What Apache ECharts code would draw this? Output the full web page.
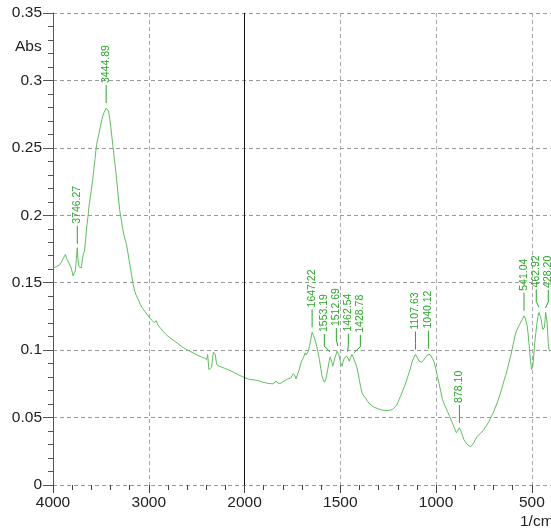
<!DOCTYPE html>
<html>
<head>
<meta charset="utf-8">
<script src="https://cdn.jsdelivr.net/npm/echarts@6/dist/echarts.min.js"></script>
<style>
  html, body { margin: 0; padding: 0; background: #fff; }
  #chart { width: 551px; height: 532px; }
</style>
</head>
<body>
<div id="chart"></div>
<script>
// IR spectrum: wavenumber (1/cm) and absorbance
const wavenumbers = [
  4000, 3980, 3960, 3940, 3927, 3910, 3900, 3890, 3885, 3878, 3870, 3865, 3858, 3850, 3840, 3830,
  3823, 3810, 3800, 3790, 3780, 3768, 3755, 3747, 3740, 3730, 3720, 3705, 3695, 3684, 3670, 3660,
  3649, 3635, 3622, 3605, 3587, 3575, 3562, 3545, 3530, 3518, 3505, 3490, 3475, 3458, 3445, 3435,
  3420, 3408, 3396, 3385, 3372, 3355, 3337, 3320, 3302, 3288, 3274, 3255, 3232, 3215, 3198, 3180,
  3163, 3145, 3135, 3110, 3090, 3065, 3042, 3015, 2990, 2965, 2945, 2930, 2920, 2910, 2896, 2875,
  2851, 2825, 2799, 2765, 2729, 2695, 2660, 2635, 2608, 2575, 2538, 2500, 2451, 2420, 2395, 2385,
  2378, 2372, 2365, 2357, 2345, 2336, 2325, 2318, 2305, 2292, 2284, 2265, 2243, 2210, 2174, 2140,
  2104, 2070, 2034, 2000, 1974, 1955, 1939, 1920, 1905, 1890, 1879, 1865, 1852, 1845, 1835, 1826,
  1818, 1810, 1800, 1792, 1783, 1775, 1766, 1758, 1752, 1746, 1743, 1737, 1731, 1726, 1722, 1714,
  1708, 1703, 1697, 1693, 1688, 1684, 1679, 1675, 1668, 1661, 1654, 1647, 1641, 1635, 1629, 1623,
  1616, 1609, 1602, 1595, 1589, 1583, 1575, 1566, 1557, 1553, 1549, 1544, 1540, 1534, 1528, 1522,
  1517, 1513, 1509, 1505, 1498, 1491, 1485, 1479, 1472, 1467, 1462, 1458, 1453, 1446, 1439, 1433,
  1429, 1424, 1415, 1408, 1401, 1394, 1387, 1381, 1375, 1366, 1358, 1345, 1332, 1319, 1306, 1293,
  1280, 1267, 1254, 1240, 1228, 1218, 1210, 1200, 1193, 1184, 1175, 1166, 1158, 1150, 1141, 1132,
  1124, 1115, 1108, 1100, 1089, 1081, 1075, 1066, 1057, 1048, 1040, 1031, 1022, 1012, 1001, 993,
  984, 975, 967, 954, 941, 928, 915, 904, 894, 884, 878, 872, 867, 861, 855, 846,
  837, 828, 820, 811, 803, 794, 785, 776, 768, 759, 750, 742, 733, 724, 715, 706,
  698, 690, 681, 672, 663, 655, 646, 637, 628, 620, 611, 602, 594, 588, 581, 572,
  564, 557, 550, 545, 541, 535, 529, 524, 520, 515, 511, 506, 502, 498, 495, 490,
  485, 479, 473, 468, 463, 457, 451, 447, 443, 438, 434, 431, 428, 424, 420, 417,
  414, 411, 409, 406
];
const absorbance = [
  0.1610, 0.1615, 0.1620, 0.1625, 0.1635, 0.1655, 0.1670, 0.1685, 0.1697, 0.1680, 0.1710, 0.1714, 0.1680, 0.1670, 0.1655, 0.1640,
  0.1635, 0.1610, 0.1580, 0.1550, 0.1570, 0.1586, 0.1680, 0.1760, 0.1680, 0.1620, 0.1610, 0.1610, 0.1660, 0.1714, 0.1734, 0.1820,
  0.1907, 0.1990, 0.2080, 0.2160, 0.2253, 0.2330, 0.2414, 0.2525, 0.2570, 0.2612, 0.2660, 0.2710, 0.2750, 0.2775, 0.2795, 0.2790,
  0.2772, 0.2720, 0.2649, 0.2580, 0.2500, 0.2390, 0.2278, 0.2150, 0.2030, 0.1970, 0.1907, 0.1840, 0.1783, 0.1710, 0.1635, 0.1560,
  0.1487, 0.1435, 0.1413, 0.1375, 0.1340, 0.1310, 0.1289, 0.1262, 0.1240, 0.1220, 0.1205, 0.1215, 0.1218, 0.1195, 0.1178, 0.1160,
  0.1140, 0.1120, 0.1103, 0.1085, 0.1066, 0.1048, 0.1029, 0.1017, 0.1005, 0.0993, 0.0980, 0.0965, 0.0950, 0.0940, 0.0932, 0.0968,
  0.0905, 0.0856, 0.0868, 0.0870, 0.0872, 0.0878, 0.0985, 0.0982, 0.0965, 0.0895, 0.0886, 0.0880, 0.0876, 0.0866, 0.0856, 0.0845,
  0.0832, 0.0820, 0.0807, 0.0797, 0.0782, 0.0780, 0.0777, 0.0770, 0.0762, 0.0758, 0.0753, 0.0752, 0.0750, 0.0758, 0.0770, 0.0755,
  0.0745, 0.0755, 0.0762, 0.0772, 0.0782, 0.0785, 0.0787, 0.0795, 0.0802, 0.0825, 0.0836, 0.0810, 0.0787, 0.0810, 0.0820, 0.0856,
  0.0890, 0.0918, 0.0925, 0.0943, 0.0960, 0.0980, 0.0965, 0.0955, 0.0990, 0.1029, 0.1080, 0.1133, 0.1110, 0.1091, 0.1060, 0.1029,
  0.0980, 0.0930, 0.0865, 0.0807, 0.0780, 0.0762, 0.0787, 0.0856, 0.0925, 0.0950, 0.0943, 0.0910, 0.0881, 0.0910, 0.0943, 0.0970,
  0.0992, 0.0995, 0.0970, 0.0950, 0.0905, 0.0881, 0.0915, 0.0943, 0.0950, 0.0955, 0.0952, 0.0935, 0.0918, 0.0945, 0.0968, 0.0950,
  0.0945, 0.0915, 0.0880, 0.0835, 0.0782, 0.0730, 0.0684, 0.0668, 0.0658, 0.0640, 0.0621, 0.0600, 0.0584, 0.0574, 0.0567, 0.0560,
  0.0555, 0.0553, 0.0552, 0.0555, 0.0560, 0.0572, 0.0584, 0.0610, 0.0634, 0.0665, 0.0696, 0.0728, 0.0758, 0.0795, 0.0832, 0.0875,
  0.0918, 0.0948, 0.0968, 0.0950, 0.0918, 0.0910, 0.0910, 0.0925, 0.0943, 0.0962, 0.0975, 0.0968, 0.0955, 0.0920, 0.0860, 0.0805,
  0.0750, 0.0690, 0.0634, 0.0590, 0.0547, 0.0505, 0.0461, 0.0422, 0.0387, 0.0399, 0.0424, 0.0405, 0.0387, 0.0362, 0.0337, 0.0318,
  0.0300, 0.0290, 0.0283, 0.0298, 0.0313, 0.0340, 0.0362, 0.0375, 0.0382, 0.0395, 0.0412, 0.0430, 0.0449, 0.0472, 0.0498, 0.0522,
  0.0547, 0.0578, 0.0610, 0.0646, 0.0684, 0.0725, 0.0770, 0.0812, 0.0856, 0.0905, 0.0955, 0.1010, 0.1066, 0.1105, 0.1140, 0.1168,
  0.1190, 0.1210, 0.1227, 0.1240, 0.1255, 0.1240, 0.1227, 0.1180, 0.1128, 0.1050, 0.0980, 0.0915, 0.0856, 0.0868, 0.0880, 0.0960,
  0.1054, 0.1130, 0.1203, 0.1250, 0.1280, 0.1255, 0.1227, 0.1185, 0.1153, 0.1160, 0.1170, 0.1225, 0.1280, 0.1250, 0.1200, 0.1120,
  0.1050, 0.1010, 0.1000, 0.0990
];
// Annotated peak positions (1/cm)
const peakLabels = [
  '3746.27', '3444.89', '1647.22', '1553.19', '1512.69', '1462.54', '1428.78',
  '1107.63', '1040.12', '878.10', '541.04', '462.92', '428.20'
];
// Major x tick labels (1/cm) and y range
const xTickLabels = [4000, 3000, 2000, 1500, 1000, 500];
const yMin = 0, yMax = 0.35, yStep = 0.05;

// The wavenumber scale is expanded 2x below 2000 1/cm.
// Axis unit u: 4000 -> 0, 2000 -> 2, then 500 1/cm per unit.
function toU(w) { return w >= 2000 ? (4000 - w) / 1000 : 2 + (2000 - w) / 500; }
function fromU(u) { return u <= 2 ? 4000 - u * 1000 : 2000 - (u - 2) * 500; }
const uMax = toU(400);

function absAt(w) {
  for (let i = 0; i < wavenumbers.length - 1; i++) {
    const a = wavenumbers[i], b = wavenumbers[i + 1];
    if (w <= a && w >= b) {
      const t = (a - w) / (a - b);
      return absorbance[i] + t * (absorbance[i + 1] - absorbance[i]);
    }
  }
  return absorbance[absorbance.length - 1];
}

const spectrum = wavenumbers.map((w, i) => [toU(w), absorbance[i]]);
const peaks = peakLabels.map(s => { const w = parseFloat(s); return [toU(w), absAt(w)]; });

const GREEN_TEXT = '#27a727';
const LABEL_FONT = '10.5px "Liberation Sans", Arial, sans-serif';
const AXIS_FONT = 15.5;
const LABEL_GAP = 12;

// Spread crowded peak labels horizontally so they do not overlap.
function layoutLabels(api) {
  const pts = peaks.map(p => api.coord(p));
  const xs = pts.map(p => p[0]);
  for (let it = 0; it < 200; it++) {
    for (let i = 0; i < xs.length - 1; i++) {
      const d = xs[i + 1] - xs[i];
      if (d < LABEL_GAP) {
        const m = (LABEL_GAP - d) / 2;
        xs[i] -= m; xs[i + 1] += m;
      }
    }
  }
  return pts.map((p, i) => ({ px: p[0], py: p[1], tx: xs[i] }));
}

const chart = echarts.init(document.getElementById('chart'), null, { renderer: 'canvas' });

const option = {
  animation: false,
  backgroundColor: '#fff',
  grid: { left: 53, top: 13, width: uMax * 96, height: 472, containLabel: false },
  xAxis: [
    {
      type: 'value', min: 0, max: uMax, interval: 1,
      axisLine: { show: false },
      axisTick: { show: true, length: 8, lineStyle: { color: '#444' } },
      axisLabel: {
        show: true, margin: 10, showMaxLabel: false,
        color: '#222', fontSize: AXIS_FONT, fontFamily: '"Liberation Sans", Arial, sans-serif',
        formatter: u => {
          const w = Math.round(fromU(u));
          return xTickLabels.indexOf(w) >= 0 ? String(w) : '';
        }
      },
      splitLine: { show: true, lineStyle: { color: '#a8a8a8', type: [4, 3], width: 1 } }
    },
    {
      type: 'value', min: 0, max: uMax, interval: 0.2, position: 'bottom',
      axisLine: { show: false },
      axisTick: { show: true, length: 5, lineStyle: { color: '#444' } },
      axisLabel: { show: false },
      splitLine: { show: false }
    }
  ],
  yAxis: {
    type: 'value', min: yMin, max: yMax, interval: yStep,
    axisLine: { show: true, lineStyle: { color: '#555', width: 1 } },
    axisTick: { show: true, length: 10, lineStyle: { color: '#555' } },
    minorTick: { show: true, splitNumber: 5, length: 5, lineStyle: { color: '#555' } },
    axisLabel: {
      margin: 11, color: '#222', fontSize: AXIS_FONT,
      fontFamily: '"Liberation Sans", Arial, sans-serif'
    },
    splitLine: { show: true, lineStyle: { color: '#9a9a9a', type: [4, 3], width: 1 } }
  },
  graphic: [
    { type: 'text', left: 15, top: 39, style: { text: 'Abs', fill: '#222', font: AXIS_FONT + 'px "Liberation Sans", Arial, sans-serif' } },
    { type: 'text', left: 520, top: 514, style: { text: '1/cm', fill: '#222', font: AXIS_FONT + 'px "Liberation Sans", Arial, sans-serif' } }
  ],
  series: [
    {
      type: 'line',
      data: spectrum,
      showSymbol: false,
      symbol: 'none',
      lineStyle: { color: '#5cc05c', width: 1 },
      z: 3,
      markLine: {
        silent: true, symbol: 'none',
        label: { show: false },
        lineStyle: { color: '#111', type: 'solid', width: 1 },
        data: [{ xAxis: 2 }]
      }
    },
    {
      type: 'custom',
      data: peaks,
      z: 4,
      renderItem: (params, api) => {
        const L = layoutLabels(api)[params.dataIndex];
        const y0 = L.py - 5;
        const y1 = y0 - 6;
        const y2 = y0 - 18;
        return {
          type: 'group',
          children: [
            {
              type: 'polyline',
              shape: { points: [[L.px, y0], [L.tx, y1], [L.tx, y2]] },
              style: { stroke: '#22aa22', lineWidth: 1, fill: null }
            },
            {
              type: 'text',
              x: L.tx, y: y2 - 2,
              rotation: Math.PI / 2,
              style: {
                text: peakLabels[params.dataIndex],
                fill: GREEN_TEXT, font: LABEL_FONT,
                align: 'left', verticalAlign: 'middle'
              }
            }
          ]
        };
      }
    }
  ]
};

chart.setOption(option);
</script>
</body>
</html>
